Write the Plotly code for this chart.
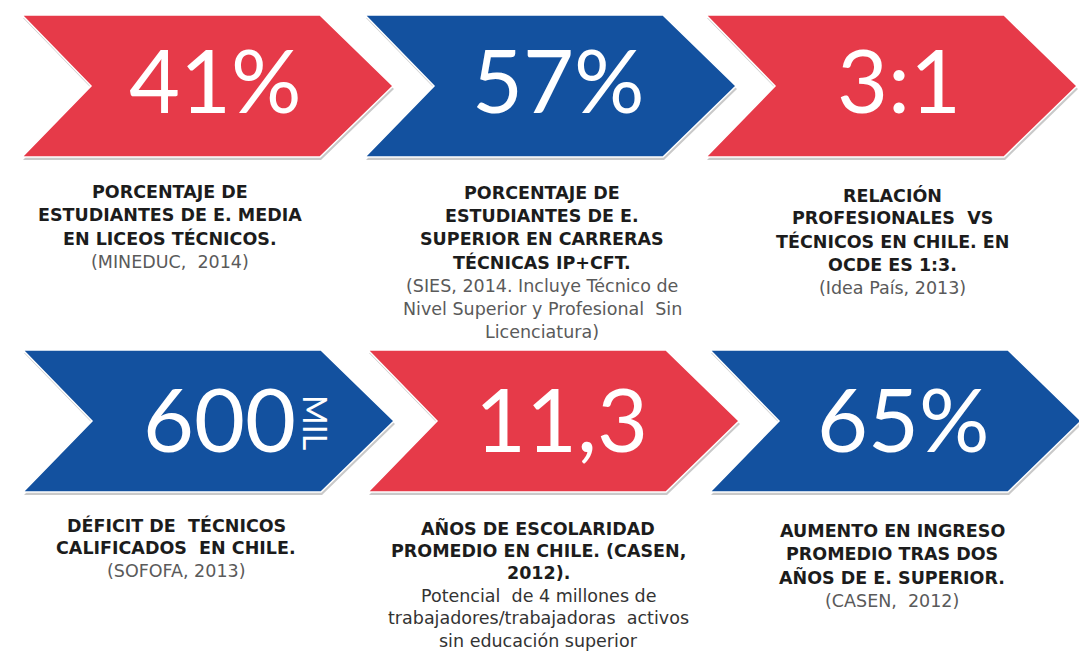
import plotly.graph_objects as go

# ---------------- data ----------------
values = ["41%", "57%", "3:1", "600", "11,3", "65%"]
units = ["", "", "", "MIL", "", ""]
fill_names = ["red", "blue", "red", "blue", "red", "blue"]

bold_lines = [
    ["PORCENTAJE DE", "ESTUDIANTES DE E. MEDIA", "EN LICEOS TÉCNICOS."],
    ["PORCENTAJE DE", "ESTUDIANTES DE E.", "SUPERIOR EN CARRERAS", "TÉCNICAS IP+CFT."],
    ["RELACIÓN", "PROFESIONALES  VS", "TÉCNICOS EN CHILE. EN", "OCDE ES 1:3."],
    ["DÉFICIT DE  TÉCNICOS", "CALIFICADOS  EN CHILE."],
    ["AÑOS DE ESCOLARIDAD", "PROMEDIO EN CHILE. (CASEN,", "2012)."],
    ["AUMENTO EN INGRESO", "PROMEDIO TRAS DOS", "AÑOS DE E. SUPERIOR."],
]
note_lines = [
    ["(MINEDUC,  2014)"],
    ["(SIES, 2014. Incluye Técnico de", "Nivel Superior y Profesional  Sin", "Licenciatura)"],
    ["(Idea País, 2013)"],
    ["(SOFOFA, 2013)"],
    ["Potencial  de 4 millones de", "trabajadores/trabajadoras  activos", "sin educación superior"],
    ["(CASEN,  2012)"],
]

# ---------------- layout / style constants ----------------
W, H = 1079, 653
colors = {"red": "#E63A49", "blue": "#13519F"}
note_colors = ["#5a5a5a", "#5a5a5a", "#5a5a5a", "#5a5a5a", "#333333", "#5a5a5a"]
lefts = [22, 365, 706, 23, 368, 710]
tops = [15, 15, 15, 350, 350, 350]
num_dy = [64, 64, 64, 68, 68, 68]
rect_w, tip_w, notch_w, chev_h = 298, 73, 69, 142
desc_cx = [170, 542, 892, 176, 538, 892]
desc_y0 = [192, 193, 195, 525, 528, 531]
line_h = [23.2, 23.2, 23.2, 23.2, 22.6, 23.2]
desc_font = "DejaVu Sans"
desc_size = 17.5
note_size = 17.5

fig = go.Figure()
shapes = []
annotations = []


def chevron_path(x0, y0, dx=0, dy=0):
    x0 += dx
    y0 += dy
    pts = [
        (x0, y0),
        (x0 + rect_w, y0),
        (x0 + rect_w + tip_w, y0 + chev_h / 2),
        (x0 + rect_w, y0 + chev_h),
        (x0, y0 + chev_h),
        (x0 + notch_w, y0 + chev_h / 2),
    ]
    return "M " + " L ".join(f"{x},{y}" for x, y in pts) + " Z"


for i in range(len(values)):
    x0, y0 = lefts[i], tops[i]
    shapes.append(dict(type="path", xref="x", yref="y", path=chevron_path(x0, y0, 1, 3),
                       fillcolor="#c9c9c9", line=dict(width=0), layer="below"))
    shapes.append(dict(type="path", xref="x", yref="y", path=chevron_path(x0, y0),
                       fillcolor=colors[fill_names[i]], line=dict(color="#ffffff", width=1.5),
                       layer="below"))
    if units[i]:
        annotations.append(dict(x=x0 + 196, y=y0 + num_dy[i], xref="x", yref="y", text=values[i],
                                showarrow=False, xanchor="center", yanchor="middle",
                                font=dict(family="Lato", size=88, color="white")))
        annotations.append(dict(x=x0 + 293, y=y0 + 72, xref="x", yref="y", text=units[i],
                                showarrow=False, xanchor="center", yanchor="middle",
                                textangle=90,
                                font=dict(family="Lato", size=32, color="white")))
    else:
        annotations.append(dict(x=x0 + 193, y=y0 + num_dy[i], xref="x", yref="y", text=values[i],
                                showarrow=False, xanchor="center", yanchor="middle",
                                font=dict(family="Lato", size=88, color="white")))
    k = 0
    for ln in bold_lines[i]:
        annotations.append(dict(x=desc_cx[i], y=desc_y0[i] + k * line_h[i], xref="x", yref="y",
                                text=f"<b>{ln}</b>", showarrow=False,
                                xanchor="center", yanchor="middle",
                                font=dict(family=desc_font, size=desc_size, color="#1c1c1c")))
        k += 1
    for ln in note_lines[i]:
        annotations.append(dict(x=desc_cx[i], y=desc_y0[i] + k * line_h[i], xref="x", yref="y",
                                text=ln, showarrow=False,
                                xanchor="center", yanchor="middle",
                                font=dict(family=desc_font, size=note_size, color=note_colors[i])))
        k += 1

fig.update_layout(
    width=W, height=H,
    margin=dict(l=0, r=0, t=0, b=0),
    paper_bgcolor="white", plot_bgcolor="white",
    xaxis=dict(range=[0, W], visible=False, fixedrange=True),
    yaxis=dict(range=[H, 0], visible=False, fixedrange=True),
    shapes=shapes, annotations=annotations, showlegend=False,
)
fig.write_html(
    "out.html",
    config={"displayModeBar": False},
    post_script="document.body.style.margin='0';document.body.style.overflow='hidden';",
)
